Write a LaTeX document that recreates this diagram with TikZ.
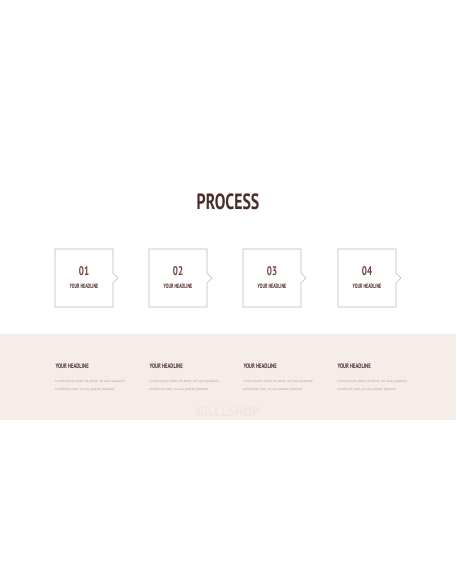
\documentclass[tikz,border=0pt]{standalone}
\usepackage{fontspec}
\setmainfont{PT Sans}
\definecolor{darkbrown}{HTML}{4A2E27}
\definecolor{numbrown}{HTML}{6E4436}
\definecolor{boxline}{HTML}{C9B8A8}
\definecolor{band}{HTML}{F6EDE9}
\definecolor{loremc}{HTML}{C39A8E}
\definecolor{wmark}{HTML}{EFE6E2}
\newcommand{\cond}[1]{\scalebox{0.72}[1]{#1}}
\newcommand{\condn}[1]{\scalebox{0.64}[1]{#1}}
\tikzset{
  stepbox/.style={draw=boxline, line width=0.6pt, fill=white},
  numtxt/.style={text=numbrown, font=\bfseries\fontsize{12.5}{12.5}\selectfont},
  headtxt/.style={text=darkbrown, font=\bfseries\fontsize{6.3}{6.3}\selectfont},
  bandhead/.style={text=darkbrown, font=\bfseries\fontsize{6.5}{6.5}\selectfont, anchor=west},
  lorem/.style={text=loremc, font=\fontsize{3.6}{8}\selectfont, anchor=north west, align=left, inner sep=0pt}
}
\begin{document}
\begin{tikzpicture}[x=1pt,y=-1pt]
\useasboundingbox (0,0) rectangle (456,586);
\fill[white] (0,0) rectangle (456,586);
\fill[band] (0,334) rectangle (456,420);
\node[text=wmark, font=\bfseries\fontsize{13}{13}\selectfont] (wm) at (228,412) {GILLLSHOP};
\node[text=darkbrown, font=\bfseries\fontsize{22}{22}\selectfont] (title) at (228,202) {\cond{PROCESS}};
\foreach \i/\x/\n in {1/55/01,2/149/02,3/243/03,4/338/04}{
  \draw[stepbox] (\x,249) -- ++(58,0) -- ++(0,24) -- ++(5,5) -- ++(-5,5) -- ++(0,24) -- ++(-58,0) -- cycle;
  \node[numtxt] (n\i) at (\x+29,271) {\cond{\n}};
  \node[headtxt] (h\i) at (\x+29,286) {\condn{YOUR HEADLINE}};
}
\foreach \i/\x in {1/52,2/146,3/240,4/334}{
  \node[bandhead] (b\i) at (\x,366) {\cond{YOUR HEADLINE}};
  \node[lorem] (l\i) at (\x+3,380) {Lorem ipsum dolor sit amet, ad case quaestio\\constituto nam, cu usu posset placerat};
}
\end{tikzpicture}
\end{document}
